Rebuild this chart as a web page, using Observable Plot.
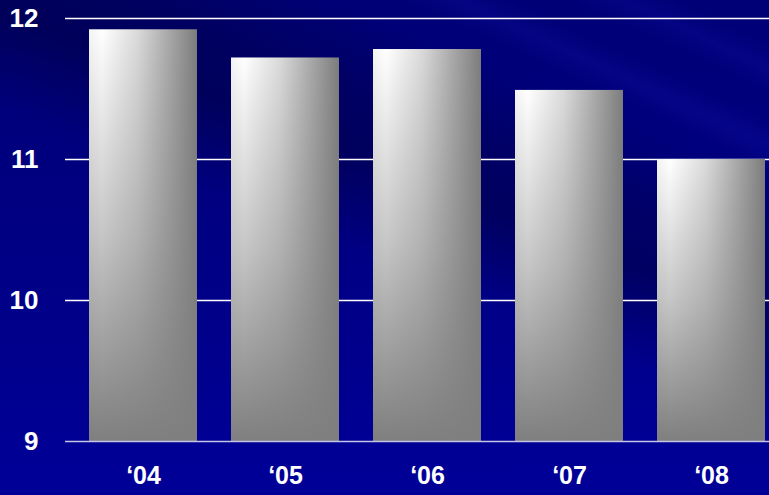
<!DOCTYPE html>
<html>
<head>
<meta charset="utf-8">
<script src="https://cdn.jsdelivr.net/npm/d3@7"></script>
<script src="https://cdn.jsdelivr.net/npm/@observablehq/plot@0.6"></script>
<style>
  html, body { margin: 0; padding: 0; }
  body {
    width: 769px; height: 495px; overflow: hidden;
    background:
      linear-gradient(22deg, rgba(0,0,0,0) 48%, rgba(0,0,45,0.4) 60%, rgba(0,0,45,0.3) 68%, rgba(0,0,0,0) 78%),
      linear-gradient(25deg, rgba(0,0,0,0) 80%, rgba(30,30,200,0.16) 83%, rgba(0,0,0,0) 86%, rgba(0,0,0,0) 89%, rgba(30,30,210,0.14) 92%, rgba(0,0,0,0) 95%),
      linear-gradient(to bottom, #000076 0%, #000082 45%, #000098 100%);
  }
  #chart svg { display: block; background: transparent; }
</style>
</head>
<body>
<div id="chart"></div>
<script>
const years = ["\u201804", "\u201805", "\u201806", "\u201807", "\u201808"];
const values = [11.92, 11.72, 11.78, 11.49, 11.0];
const yTicks = [9, 10, 11, 12];
const gridLines = [10, 11, 12];
const baseline = 9;

const data = years.map((year, i) => ({year, value: values[i]}));

const svg = Plot.plot({
  width: 769,
  height: 495,
  marginLeft: 65,
  marginRight: 0,
  marginTop: 18,
  marginBottom: 54,
  style: {background: "transparent", color: "white", fontFamily: "'Liberation Sans', Arial, sans-serif"},
  x: {domain: years, range: [88, 766], paddingInner: 0.24, paddingOuter: 0, align: 0.5},
  y: {domain: [9, 12], range: [441, 18]},
  marks: [
    Plot.ruleY(gridLines, {stroke: "#ffffff", strokeWidth: 1.5}),
    Plot.barY(data, {x: "year", y1: () => baseline, y2: "value", fill: "url(#barH)"}),
    Plot.barY(data, {x: "year", y1: () => baseline, y2: "value", fill: "url(#barV)"}),
    Plot.ruleY([baseline], {stroke: "#c4c4e4", strokeWidth: 1.5}),
    Plot.axisY({ticks: yTicks, tickSize: 0, tickPadding: 27, fontSize: 26, fontWeight: "bold", tickFormat: d => String(d), label: null}),
    Plot.axisX({tickSize: 0, tickPadding: 25, fontSize: 25, fontWeight: "bold", label: null})
  ]
});

const defs = d3.select(svg).insert("defs", ":first-child");
const gh = defs.append("linearGradient").attr("id", "barH")
  .attr("x1", 0).attr("y1", 0).attr("x2", 1).attr("y2", 0);
gh.append("stop").attr("offset", 0).attr("stop-color", "#f4f4f4");
gh.append("stop").attr("offset", 0.12).attr("stop-color", "#ffffff");
gh.append("stop").attr("offset", 0.45).attr("stop-color", "#dadada");
gh.append("stop").attr("offset", 1).attr("stop-color", "#7c7c7c");
const gv = defs.append("linearGradient").attr("id", "barV")
  .attr("x1", 0).attr("y1", 0).attr("x2", 0).attr("y2", 1);
gv.append("stop").attr("offset", 0).attr("stop-color", "#808080").attr("stop-opacity", 0);
gv.append("stop").attr("offset", 0.5).attr("stop-color", "#808080").attr("stop-opacity", 0.45);
gv.append("stop").attr("offset", 1).attr("stop-color", "#7f7f7f").attr("stop-opacity", 1);

document.getElementById("chart").appendChild(svg);
</script>
</body>
</html>
